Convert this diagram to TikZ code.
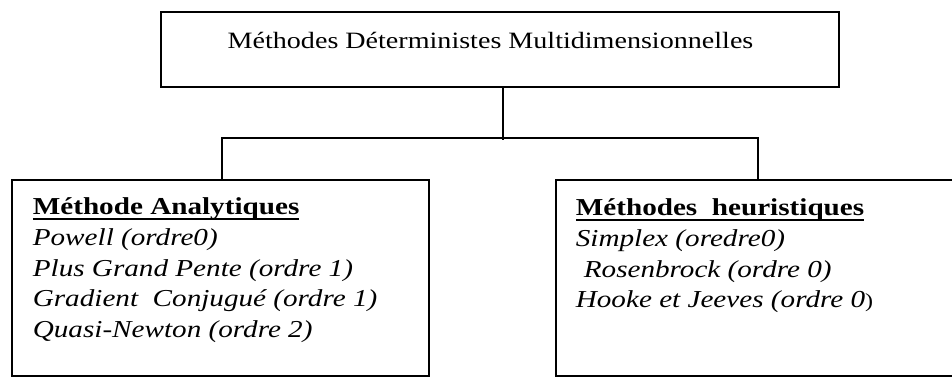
\documentclass[tikz,border=0pt]{standalone}
\usepackage{fontspec}
\setmainfont{Liberation Serif}[FakeStretch=1.2]

% word-processor style underline that runs through the descenders
\newcommand\wordul[1]{\setbox0\hbox{#1}\rlap{\rule[-5pt]{\wd0}{1.8pt}}\box0}

\tikzset{
  frame/.style={draw=black, line width=1.7pt, inner ysep=0pt},
  link/.style={draw=black, line width=1.7pt},
  bodytext/.style={font=\fontsize{24.3}{30.7}\selectfont}
}

\begin{document}
\begin{tikzpicture}[x=1pt, y=-1pt]
  \useasboundingbox (0,0) rectangle (952,376);

  % root box
  \node[frame, minimum width=678pt, minimum height=75pt, inner xsep=4pt,
        text height=17pt, text depth=19pt,
        font=\fontsize{23.4}{28}\selectfont] (root) at (500,49.5)
    {Méthodes Déterministes Multidimensionnelles\hspace*{19pt}};

  % analytic methods
  \node[frame, bodytext, anchor=north west, minimum width=417pt,
        minimum height=196pt, inner xsep=21pt] (ana) at (11,179)
    {\parbox[c][196pt][t]{375pt}{%
      \rule{0pt}{35pt}\textbf{\wordul{Méthode Analytiques}}\\
      \textit{Powell (ordre0)}\\
      \textit{Plus Grand Pente (ordre 1)}\\
      \textit{Gradient~~Conjugué (ordre 1)}\\
      \textit{Quasi-Newton (ordre 2)}}};

  % heuristic methods
  \node[frame, bodytext, anchor=north west, minimum width=398.5pt,
        minimum height=196pt, inner xsep=20pt] (heu) at (555,179)
    {\parbox[c][196pt][t]{358.5pt}{%
      \rule{0pt}{36pt}\textbf{\wordul{Méthodes~~heuristiques}}\\
      \textit{Simplex (oredre0)}\\
      \hspace*{8pt}\textit{Rosenbrock (ordre 0)}\\
      \textit{Hooke et Jeeves (ordre 0}{\fontsize{20}{30}\selectfont )}}};

  % junction points of the tree connector
  \coordinate (mid) at (503,138);
  \coordinate (bl) at (222,138);
  \coordinate (br) at (758,138);

  \draw[link] (root.south -| mid) -- ([yshift=-2pt]mid);
  \draw[link] (bl |- ana.north) -- (bl) -- (br) -- (br |- heu.north);
\end{tikzpicture}
\end{document}
